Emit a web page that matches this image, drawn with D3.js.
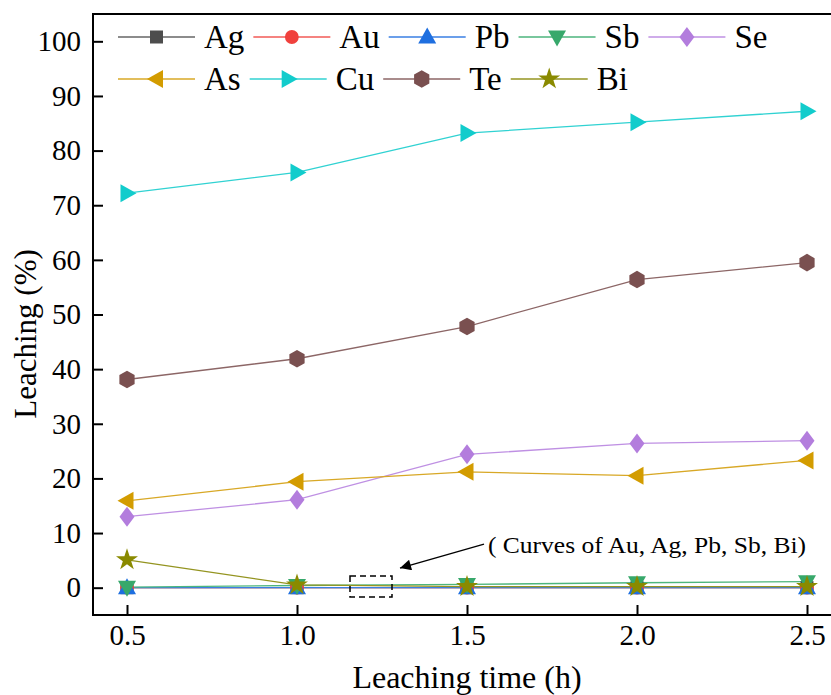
<!DOCTYPE html>
<html><head><meta charset="utf-8">
<script src="https://cdn.jsdelivr.net/npm/d3@7"></script>
<style>
body{margin:0;background:#fff;}
text{font-family:"Liberation Serif","Times New Roman",serif;fill:#000;}
</style></head>
<body><svg id="c" width="831" height="695"></svg>
<script>
const times = [0.5, 1.0, 1.5, 2.0, 2.5];
const seriesNames = ["Ag","Au","Pb","Sb","Se","As","Cu","Te","Bi"];
const Ag = [0.0, 0.0, 0.0, 0.0, 0.0];
const Au = [0.0, 0.0, 0.0, 0.0, 0.0];
const Pb = [0.0, 0.0, 0.0, 0.0, 0.0];
const Sb = [0.1, 0.4, 0.6, 0.9, 1.1];
const Se = [13.0, 16.1, 24.4, 26.4, 26.9];
const As = [15.9, 19.4, 21.2, 20.5, 23.3];
const Cu = [72.2, 76.0, 83.2, 85.2, 87.2];
const Te = [38.1, 41.9, 47.8, 56.4, 59.5];
const Bi = [5.1, 0.5, 0.2, 0.2, 0.2];
const xTicks = [0.5, 1.0, 1.5, 2.0, 2.5];
const yTicks = [0,10,20,30,40,50,60,70,80,90,100];
const annotationText = "( Curves of Au, Ag, Pb, Sb, Bi)";

const values = {Ag, Au, Pb, Sb, Se, As, Cu, Te, Bi};
const colors = {Ag:"#4d4d4d", Au:"#f0413d", Pb:"#1e6fe0", Sb:"#37a86b", Se:"#b37ddd",
  As:"#d39c00", Cu:"#12cccc", Te:"#7a5050", Bi:"#8a8a00"};
const lineColors = {Ag:"#666", Au:"#f25a56", Pb:"#3a7fe3", Sb:"#4db57c", Se:"#bf90e3",
  As:"#d8a826", Cu:"#30d2d2", Te:"#8c6666", Bi:"#949420"};

function poly(pts){return "M"+pts.map(p=>p.join(",")).join("L")+"Z";}
const shapes = {
  Ag: ()=>poly([[-6.5,-6.5],[6.5,-6.5],[6.5,6.5],[-6.5,6.5]]),
  Au: ()=>d3.symbol(d3.symbolCircle,150)(),
  Pb: ()=>poly([[0,-9.5],[9,6.5],[-9,6.5]]),
  Sb: ()=>poly([[0,9.5],[9,-6.5],[-9,-6.5]]),
  Se: ()=>poly([[0,-10],[7.5,0],[0,10],[-7.5,0]]),
  As: ()=>poly([[-9.5,0],[6.5,-9],[6.5,9]]),
  Cu: ()=>poly([[9.5,0],[-6.5,-9],[-6.5,9]]),
  Te: ()=>poly(d3.range(6).map(i=>{const a=Math.PI/3*i - Math.PI/2;return [8.8*Math.cos(a),8.8*Math.sin(a)];})),
  Bi: ()=>d3.symbol(d3.symbolStar,150)()
};

const svg = d3.select("#c");
const x = d3.scaleLinear().domain([0.4, 2.6]).range([93, 841]);
const y = d3.scaleLinear().domain([-5, 105]).range([615, 14]);

// frame
svg.append("rect").attr("x",93).attr("y",14).attr("width",760).attr("height",601)
  .attr("fill","none").attr("stroke","#000").attr("stroke-width",2);

// y axis ticks (inward)
const gy = svg.append("g").attr("transform","translate(93,0)")
  .call(d3.axisRight(y).tickValues(yTicks).tickSize(10).tickFormat(d3.format("d")));
gy.select(".domain").remove();
gy.selectAll(".tick line").attr("stroke","#000").attr("stroke-width",2);
gy.selectAll(".tick text").attr("x",-12).attr("text-anchor","end")
  .style("font-size","29px").style("font-family","Liberation Serif");

const gx = svg.append("g").attr("transform","translate(0,615)")
  .call(d3.axisTop(x).tickValues(xTicks).tickSize(10).tickFormat(d3.format(".1f")));
gx.select(".domain").remove();
gx.selectAll(".tick line").attr("stroke","#000").attr("stroke-width",2);
gx.selectAll(".tick text").attr("y",30).attr("dy","0").attr("text-anchor","middle")
  .style("font-size","29px").style("font-family","Liberation Serif");

svg.append("text").attr("x",467).attr("y",688).attr("text-anchor","middle")
  .style("font-size","32px").text("Leaching time (h)");
svg.append("text").attr("transform","translate(36,334) rotate(-90)").attr("text-anchor","middle")
  .style("font-size","31px").text("Leaching (%)");

// series
const line = d3.line().x((d,i)=>x(times[i])).y(d=>y(d));
seriesNames.forEach(n=>{
  svg.append("path").attr("d",line(values[n])).attr("fill","none")
    .attr("stroke",lineColors[n]).attr("stroke-width",1.3);
});
seriesNames.forEach(n=>{
  svg.append("g").selectAll("path").data(values[n]).join("path")
    .attr("transform",(d,i)=>`translate(${x(times[i])},${y(d)})`)
    .attr("d",shapes[n]()).attr("fill",colors[n]);
});

// annotation
svg.append("rect").attr("x",350).attr("y",576).attr("width",42).attr("height",21)
  .attr("fill","none").attr("stroke","#000").attr("stroke-width",1.5).attr("stroke-dasharray","6,4");
svg.append("defs").append("marker").attr("id","ah").attr("viewBox","0 0 10 10")
  .attr("refX",10).attr("refY",5).attr("markerWidth",16).attr("markerHeight",11)
  .attr("markerUnits","userSpaceOnUse").attr("orient","auto")
  .append("path").attr("d","M0,0L10,5L0,10Z").attr("fill","#000");
svg.append("line").attr("x1",484).attr("y1",544).attr("x2",400).attr("y2",568)
  .attr("stroke","#000").attr("stroke-width",1.3).attr("marker-end","url(#ah)");
svg.append("text").attr("x",488).attr("y",553).style("font-size","24px")
  .attr("textLength",318).attr("lengthAdjust","spacingAndGlyphs").text(annotationText);

// legend
const rows = [["Ag","Au","Pb","Sb","Se"],["As","Cu","Te","Bi"]];
const rowY = [37, 79];
rows.forEach((r,ri)=>{
  let cx = 118;
  r.forEach(n=>{
    const g = svg.append("g");
    g.append("line").attr("x1",cx).attr("x2",cx+77).attr("y1",rowY[ri]).attr("y2",rowY[ri])
      .attr("stroke",lineColors[n]).attr("stroke-width",1.3);
    g.append("path").attr("d",shapes[n]()).attr("fill",colors[n])
      .attr("transform",`translate(${cx+38.5},${rowY[ri]})`);
    const t = g.append("text").attr("x",cx+86).attr("y",rowY[ri]+11)
      .style("font-size","33px").text(n);
    cx = cx + 86 + t.node().getComputedTextLength() + 9;
  });
});
</script></body></html>
